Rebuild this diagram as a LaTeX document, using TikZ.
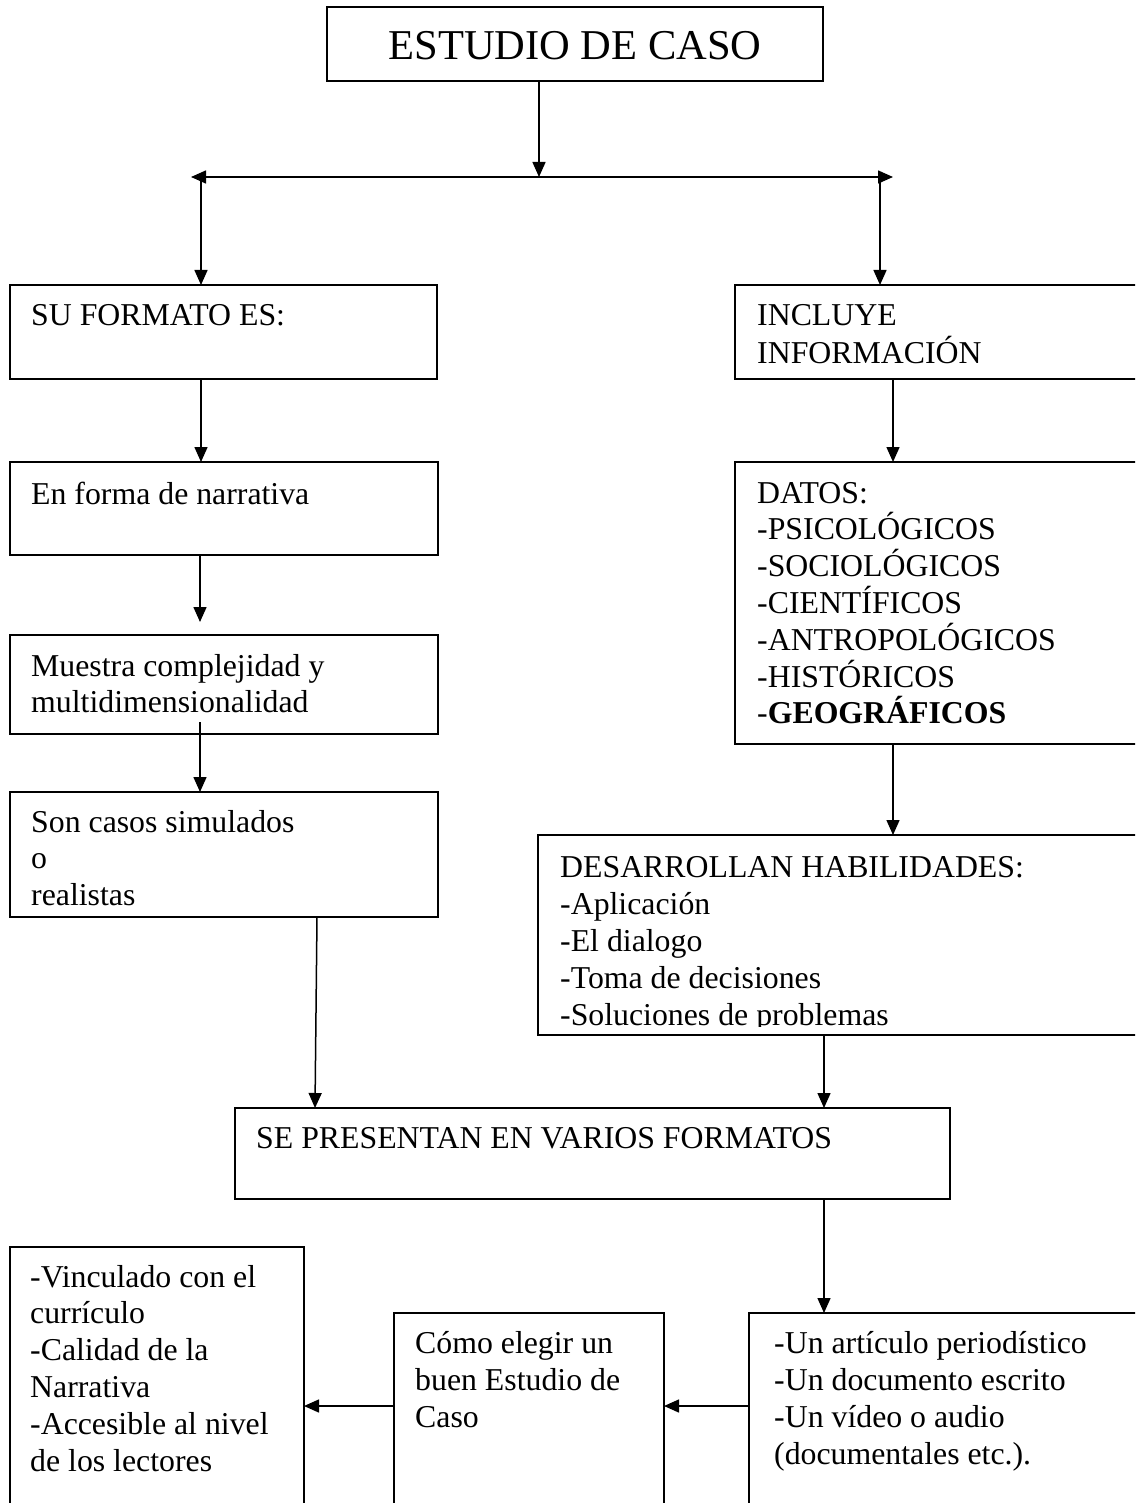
\documentclass[tikz,border=0pt]{standalone}
\usepackage{fontspec}
\setmainfont{Liberation Serif}
\usetikzlibrary{arrows.meta}
\newcommand\mylines[2][37pt]{\vtop{\baselineskip=#1\lineskiplimit=-100pt\lineskip=0pt\halign{##\hfil\cr#2\crcr}}}
\begin{document}
\begin{tikzpicture}[x=1pt,y=-1pt,
  box/.style={draw, line width=1.8pt, inner sep=0pt, outer sep=0pt, anchor=north west},
  arr/.style={line width=1.5pt, -{Triangle[length=15pt,width=13pt]}},
  arrtwo/.style={line width=1.5pt, {Triangle[length=15pt,width=13pt]}-{Triangle[length=15pt,width=13pt]}},
  lbl/.style={anchor=base west, inner sep=0pt, font=\fontsize{31.8}{37}\selectfont}]
\useasboundingbox (0,0) rectangle (1135,1503);
\clip (0,0) rectangle (1135,1503);
\fill[white] (0,0) rectangle (1135,1503);
% boxes
\node[box, minimum width=496pt, minimum height=74pt] (title) at (327,7) {};
\node[box, minimum width=427pt, minimum height=94pt] (formato) at (10,285) {};
\node[box, minimum width=430pt, minimum height=94pt] (incluye) at (735,285) {};
\node[box, minimum width=428pt, minimum height=93pt] (forma) at (10,462) {};
\node[box, minimum width=430pt, minimum height=282pt] (datos) at (735,462) {};
\node[box, minimum width=428pt, minimum height=99pt] (muestra) at (10,635) {};
\node[box, minimum width=428pt, minimum height=125pt] (son) at (10,792) {};
\node[box, minimum width=620pt, minimum height=200pt] (desarr) at (538,835) {};
\node[box, minimum width=715pt, minimum height=91pt] (se) at (235,1108) {};
\node[box, minimum width=294pt, minimum height=300pt] (izq) at (10,1247) {};
\node[box, minimum width=270pt, minimum height=250pt] (mid) at (394,1313) {};
\node[box, minimum width=420pt, minimum height=250pt] (der) at (749,1313) {};
% texts
\node[anchor=base, inner sep=0pt, font=\fontsize{42.5}{50}\selectfont] (titleT) at (575,60) {ESTUDIO DE CASO};
\node[lbl] (formatoT) at (31,326) {SU FORMATO ES:};
\node[lbl] (incluyeT) at (757,326) {\mylines{INCLUYE\cr INFORMACIÓN}};
\node[lbl] (formaT) at (31,504) {En forma de narrativa};
\node[lbl] (datosT) at (757,503) {\mylines[36.8pt]{DATOS:\cr -PSICOLÓGICOS\cr -SOCIOLÓGICOS\cr -CIENTÍFICOS\cr -ANTROPOLÓGICOS\cr -HISTÓRICOS\cr -\textbf{GEOGRÁFICOS}}};
\node[lbl] (muestraT) at (31,676) {\mylines[36pt]{Muestra complejidad y\cr multidimensionalidad}};
\node[lbl] (sonT) at (31,832) {\mylines[36.5pt]{Son casos simulados\cr o\cr realistas}};
\begin{scope}
\clip (desarr.north west) rectangle (1135,1026);
\node[lbl] (desarrT) at (560,877) {\mylines{DESARROLLAN HABILIDADES:\cr -Aplicación\cr -El dialogo\cr -Toma de decisiones\cr -Soluciones de problemas}};
\end{scope}
\node[lbl] (seT) at (256,1148) {SE PRESENTAN EN VARIOS FORMATOS};
\node[lbl] (izqT) at (30,1287) {\mylines[36.8pt]{-Vinculado con el\cr currículo\cr -Calidad de la\cr Narrativa\cr -Accesible al nivel\cr de los lectores}};
\node[lbl] (midT) at (415,1353) {\mylines{Cómo elegir un\cr buen Estudio de\cr Caso}};
\node[lbl] (derT) at (774,1353) {\mylines{-Un artículo periodístico\cr -Un documento escrito\cr -Un vídeo o audio\cr (documentales etc.).}};
% connectors
\coordinate (j) at (539,177);
\coordinate (hl) at (191,177);
\coordinate (hr) at (893,177);
\coordinate (vl) at (201,177);
\coordinate (vr) at (880,177);
\draw[arr] (title.south -| j) -- (j);
\draw[arrtwo] (hl) -- (hr);
\draw[arr] (vl) -- (vl |- formato.north);
\draw[arr] (vr) -- (vr |- incluye.north);
\draw[arr] (formato.south -| vl) -- (forma.north -| vl);
\coordinate (c1) at (200,622);
\draw[arr] (forma.south -| c1) -- (c1);
\coordinate (c2) at (200,722);
\draw[arr] (c2) -- (son.north -| c2);
\coordinate (c3) at (317,0);
\coordinate (c4) at (315,0);
\draw[arr] (son.south -| c3) -- (se.north -| c4);
\coordinate (rx) at (893,0);
\draw[arr] (incluye.south -| rx) -- (datos.north -| rx);
\draw[arr] (datos.south -| rx) -- (desarr.north -| rx);
\coordinate (sx) at (824,0);
\draw[arr] (desarr.south -| sx) -- (se.north -| sx);
\draw[arr] (se.south -| sx) -- (der.north -| sx);
\coordinate (by) at (0,1406);
\draw[arr] (der.west |- by) -- (mid.east |- by);
\draw[arr] (mid.west |- by) -- (izq.east |- by);
\end{tikzpicture}
\end{document}
